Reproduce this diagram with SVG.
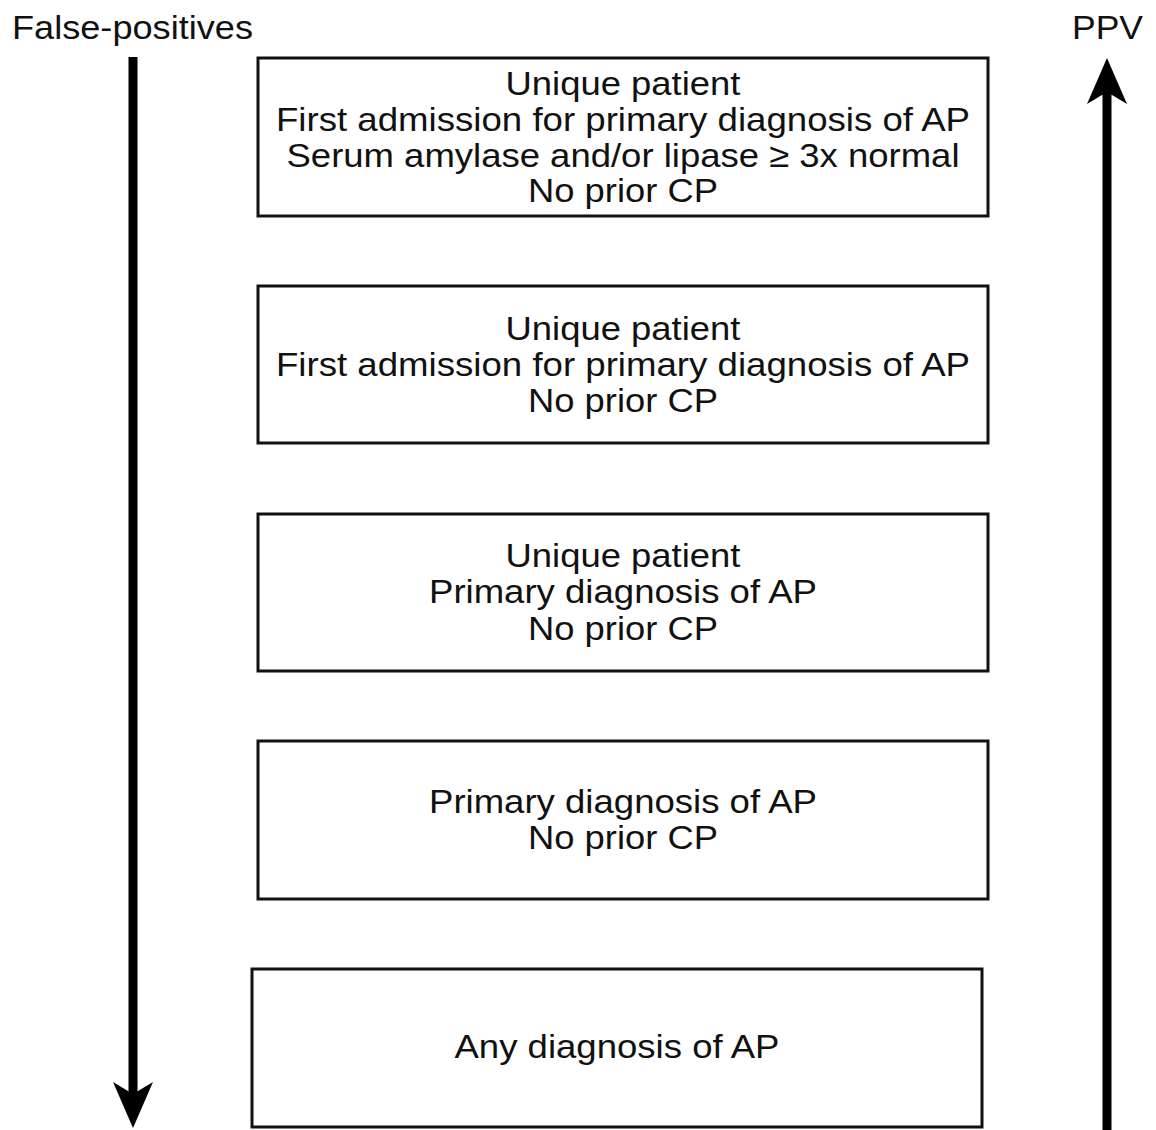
<svg xmlns="http://www.w3.org/2000/svg" width="1156" height="1130" viewBox="0 0 1156 1130">
<style>
.box{fill:#fff;stroke:#111;stroke-width:3}
.t{font-family:"Liberation Sans",Arial,sans-serif;font-size:34px;fill:#111;text-anchor:middle}
.lab{font-family:"Liberation Sans",Arial,sans-serif;font-size:33px;fill:#111}
.ax{stroke:#000;stroke-width:9;fill:none}
</style>
<defs>
<marker id="ah" markerUnits="userSpaceOnUse" viewBox="0 0 46 40" markerWidth="46" markerHeight="40" refX="14" refY="20" orient="auto">
<path d="M0,0 L46,20 L0,40 L12,20 Z" fill="#000"/>
</marker>
</defs>
<rect width="1156" height="1130" fill="#fff"/>
<text class="lab" x="12" y="39" textLength="241" lengthAdjust="spacingAndGlyphs">False-positives</text>
<text class="lab" x="1072" y="39" textLength="71" lengthAdjust="spacingAndGlyphs">PPV</text>
<g id="connectors">
<line class="ax" x1="133" y1="57" x2="133" y2="1096" marker-end="url(#ah)"/>
<line class="ax" x1="1107" y1="1130" x2="1107" y2="90" marker-end="url(#ah)"/>
</g>
<g id="node1">
<rect class="box" x="258" y="58" width="730" height="158"/>
<text class="t" x="623" y="95" textLength="235" lengthAdjust="spacingAndGlyphs">Unique patient</text>
<text class="t" x="623" y="131" textLength="694" lengthAdjust="spacingAndGlyphs">First admission for primary diagnosis of AP</text>
<text class="t" x="623" y="167" textLength="673" lengthAdjust="spacingAndGlyphs">Serum amylase and/or lipase ≥ 3x normal</text>
<text class="t" x="623" y="202" textLength="190" lengthAdjust="spacingAndGlyphs">No prior CP</text>
</g>
<g id="node2">
<rect class="box" x="258" y="286" width="730" height="157"/>
<text class="t" x="623" y="340" textLength="235" lengthAdjust="spacingAndGlyphs">Unique patient</text>
<text class="t" x="623" y="376" textLength="694" lengthAdjust="spacingAndGlyphs">First admission for primary diagnosis of AP</text>
<text class="t" x="623" y="412" textLength="190" lengthAdjust="spacingAndGlyphs">No prior CP</text>
</g>
<g id="node3">
<rect class="box" x="258" y="514" width="730" height="157"/>
<text class="t" x="623" y="567" textLength="235" lengthAdjust="spacingAndGlyphs">Unique patient</text>
<text class="t" x="623" y="603" textLength="388" lengthAdjust="spacingAndGlyphs">Primary diagnosis of AP</text>
<text class="t" x="623" y="640" textLength="190" lengthAdjust="spacingAndGlyphs">No prior CP</text>
</g>
<g id="node4">
<rect class="box" x="258" y="741" width="730" height="158"/>
<text class="t" x="623" y="813" textLength="388" lengthAdjust="spacingAndGlyphs">Primary diagnosis of AP</text>
<text class="t" x="623" y="849" textLength="190" lengthAdjust="spacingAndGlyphs">No prior CP</text>
</g>
<g id="node5">
<rect class="box" x="252" y="969" width="730" height="158"/>
<text class="t" x="617" y="1058" textLength="325" lengthAdjust="spacingAndGlyphs">Any diagnosis of AP</text>
</g>
</svg>
